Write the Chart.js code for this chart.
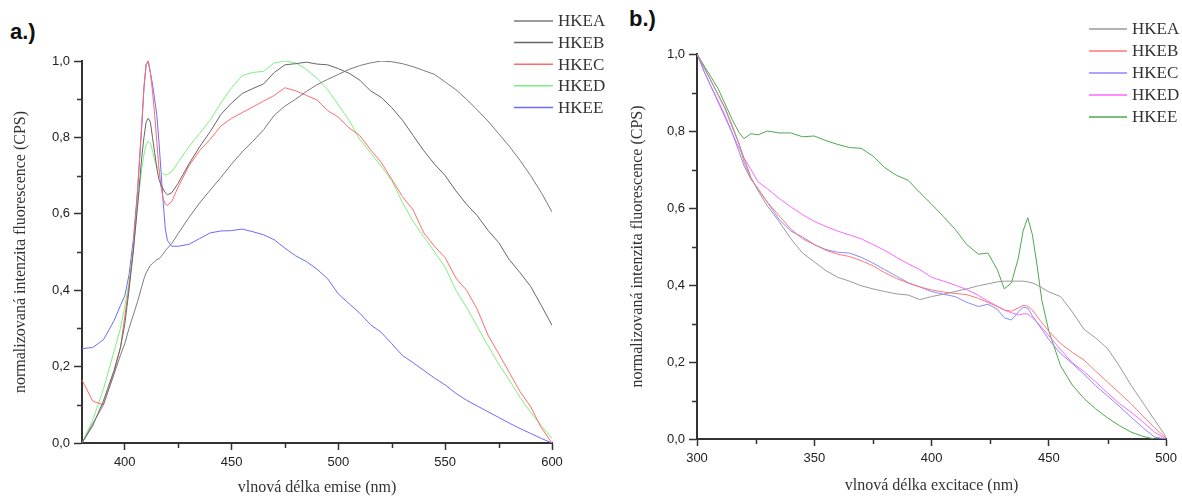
<!DOCTYPE html>
<html>
<head>
<meta charset="utf-8">
<script src="https://cdn.jsdelivr.net/npm/chart.js@4"></script>
<style>
  body { margin: 0; background: #fff; width: 1182px; height: 497px; position: relative; overflow: hidden; }
  canvas { position: absolute; top: 0; }
  #chartA { left: 0; }
  #chartB { left: 600px; }
  .tag { position: absolute; font: bold 22px "Liberation Sans", Arial, sans-serif; color: #111; }
</style>
</head>
<body>
<div class="tag" style="left:10px;top:19px">a.)</div>
<div class="tag" style="left:629px;top:6px">b.)</div>
<canvas id="chartA" width="640" height="497"></canvas>
<canvas id="chartB" width="582" height="497"></canvas>
<script>
// --- a.) emisní spektra ---
const emisX = [380, 385, 390, 395, 398, 400, 402, 404, 406, 408, 409, 410, 411, 412, 413, 414, 415, 416, 417, 418, 419, 420, 422, 425,
  430, 435, 440, 445, 450, 455, 460, 465, 470, 475, 480, 485, 490, 495, 500, 505, 510, 515, 520, 525, 530, 535, 540, 545, 550,
  555, 560, 565, 570, 575, 580, 585, 590, 595, 600];
const emisHKEA = [0, 0.05, 0.10, 0.18, 0.23, 0.26, 0.30, 0.335, 0.37, 0.41, 0.43, 0.445, 0.455, 0.465, 0.47, 0.475, 0.48, 0.482, 0.488, 0.495, 0.503, 0.51, 0.522, 0.548,
  0.59, 0.628, 0.662, 0.695, 0.73, 0.762, 0.79, 0.82, 0.858, 0.882, 0.9, 0.92, 0.938, 0.952, 0.965, 0.978, 0.988, 0.995, 1.0, 0.998, 0.993, 0.985, 0.975, 0.965, 0.945,
  0.925, 0.9, 0.872, 0.843, 0.81, 0.777, 0.74, 0.7, 0.655, 0.605];
const emisHKEB = [0, 0.045, 0.11, 0.19, 0.25, 0.31, 0.40, 0.50, 0.62, 0.75, 0.80, 0.84, 0.85, 0.84, 0.80, 0.76, 0.72, 0.69, 0.675, 0.665, 0.655, 0.65, 0.655, 0.68,
  0.73, 0.775, 0.815, 0.86, 0.89, 0.915, 0.928, 0.94, 0.97, 0.99, 0.993, 0.997, 0.992, 0.99, 0.98, 0.968, 0.95, 0.922, 0.905, 0.878, 0.845, 0.805, 0.765, 0.73, 0.70,
  0.66, 0.625, 0.595, 0.557, 0.525, 0.48, 0.446, 0.41, 0.36, 0.308];
const emisHKEC = [0.165, 0.11, 0.10, 0.185, 0.25, 0.33, 0.41, 0.51, 0.66, 0.84, 0.93, 0.99, 1.0, 0.97, 0.92, 0.86, 0.79, 0.72, 0.67, 0.64, 0.625, 0.622, 0.632, 0.67,
  0.725, 0.765, 0.795, 0.83, 0.85, 0.865, 0.88, 0.895, 0.91, 0.93, 0.922, 0.91, 0.898, 0.87, 0.853, 0.825, 0.805, 0.768, 0.735, 0.69, 0.645, 0.61, 0.55, 0.515, 0.485,
  0.432, 0.40, 0.35, 0.283, 0.234, 0.185, 0.135, 0.095, 0.04, 0.0];
const emisHKED = [0, 0.06, 0.14, 0.24, 0.30, 0.356, 0.42, 0.51, 0.62, 0.72, 0.755, 0.78, 0.79, 0.785, 0.765, 0.74, 0.725, 0.715, 0.71, 0.705, 0.702, 0.703, 0.71, 0.735,
  0.775, 0.81, 0.845, 0.89, 0.93, 0.962, 0.97, 0.973, 0.995, 1.0, 0.995, 0.978, 0.955, 0.925, 0.885, 0.845, 0.795, 0.76, 0.725, 0.687, 0.63, 0.58, 0.54, 0.50, 0.46,
  0.40, 0.355, 0.305, 0.255, 0.207, 0.165, 0.12, 0.08, 0.045, 0.012];
const emisHKEE = [0.247, 0.25, 0.27, 0.32, 0.36, 0.385, 0.44, 0.53, 0.66, 0.83, 0.93, 0.99, 1.0, 0.97, 0.94, 0.90, 0.86, 0.79, 0.71, 0.63, 0.56, 0.53, 0.515, 0.515,
  0.52, 0.535, 0.55, 0.555, 0.556, 0.56, 0.553, 0.545, 0.532, 0.51, 0.49, 0.475, 0.455, 0.43, 0.39, 0.365, 0.34, 0.31, 0.29, 0.26, 0.229, 0.21, 0.19, 0.17, 0.152,
  0.13, 0.112, 0.097, 0.082, 0.067, 0.052, 0.038, 0.025, 0.012, 0.0];

// --- b.) excitační spektra ---
const excX = [300, 303, 306, 309, 312, 315, 318, 320, 323, 326, 330, 335, 340, 345, 350, 355, 360, 365, 370, 375, 380, 385, 390, 395, 400,
  405, 410, 415, 420, 424, 428, 431, 434, 437, 439, 441, 443, 445, 447, 450, 455, 460, 465, 470, 475, 480, 485, 490, 495, 500];
const excHKEA = [1.0, 0.965, 0.93, 0.895, 0.86, 0.815, 0.765, 0.73, 0.68, 0.645, 0.605, 0.565, 0.52, 0.483, 0.46, 0.437, 0.42, 0.41, 0.398, 0.39, 0.383, 0.377, 0.374, 0.362, 0.37,
  0.376, 0.383, 0.39, 0.398, 0.403, 0.408, 0.41, 0.41, 0.41, 0.41, 0.408, 0.405, 0.40, 0.393, 0.382, 0.37, 0.33, 0.285, 0.262, 0.235, 0.19, 0.14, 0.095, 0.05, 0.005];
const excHKEB = [1.0, 0.965, 0.93, 0.893, 0.857, 0.81, 0.766, 0.72, 0.675, 0.65, 0.615, 0.58, 0.545, 0.52, 0.505, 0.49, 0.48, 0.474, 0.463, 0.45, 0.432, 0.417, 0.405, 0.395, 0.387,
  0.382, 0.378, 0.375, 0.365, 0.355, 0.344, 0.335, 0.332, 0.34, 0.347, 0.345, 0.335, 0.318, 0.302, 0.28, 0.248, 0.225, 0.205, 0.176, 0.148, 0.12, 0.092, 0.06, 0.03, 0.002];
const excHKEC = [1.0, 0.955, 0.915, 0.875, 0.835, 0.795, 0.745, 0.71, 0.675, 0.65, 0.615, 0.57, 0.54, 0.525, 0.505, 0.492, 0.485, 0.483, 0.472, 0.457, 0.44, 0.423, 0.406, 0.395, 0.383,
  0.376, 0.37, 0.355, 0.344, 0.35, 0.337, 0.315, 0.309, 0.33, 0.342, 0.34, 0.32, 0.302, 0.285, 0.258, 0.222, 0.196, 0.168, 0.138, 0.112, 0.085, 0.057, 0.03, 0.005, 0.0];
const excHKED = [1.0, 0.955, 0.915, 0.878, 0.84, 0.795, 0.755, 0.73, 0.70, 0.668, 0.65, 0.625, 0.603, 0.583, 0.565, 0.552, 0.54, 0.53, 0.52, 0.505, 0.49, 0.472, 0.455, 0.44, 0.42,
  0.41, 0.40, 0.388, 0.373, 0.358, 0.345, 0.335, 0.328, 0.322, 0.325, 0.325, 0.315, 0.303, 0.29, 0.268, 0.232, 0.198, 0.175, 0.148, 0.12, 0.092, 0.07, 0.045, 0.018, 0.0];
const excHKEE = [1.0, 0.97, 0.94, 0.91, 0.87, 0.83, 0.795, 0.78, 0.793, 0.79, 0.80, 0.795, 0.795, 0.785, 0.787, 0.775, 0.765, 0.757, 0.755, 0.735, 0.705, 0.685, 0.672, 0.64, 0.61,
  0.578, 0.545, 0.505, 0.48, 0.483, 0.44, 0.39, 0.405, 0.47, 0.54, 0.575, 0.53, 0.45, 0.36, 0.28, 0.19, 0.14, 0.105, 0.078, 0.055, 0.035, 0.018, 0.007, 0.0, 0.0];

// popisky os
const emisTicks = [400, 450, 500, 550, 600];
const emisMinor = [425, 475, 525, 575];
const excTicks = [300, 350, 400, 450, 500];
const excMinor = [325, 375, 425, 475];
const yTicks = [0, 0.2, 0.4, 0.6, 0.8, 1.0];
const yMinor = [0.1, 0.3, 0.5, 0.7, 0.9];

const AXIS = '#333';
const SERIF = '"Liberation Serif", "Times New Roman", serif';
const SANS = '"Liberation Sans", Arial, sans-serif';

function series(xs, ys, label, color) {
  return {
    label,
    data: xs.map((x, i) => ({ x, y: ys[i] })),
    borderColor: color,
    borderWidth: 1,
    pointRadius: 0,
    tension: 0,
    fill: false
  };
}

// vedlejší značky na osách + legenda vpravo nahoře
const extras = {
  id: 'extras',
  afterDraw(chart, args, opts) {
    const ctx = chart.ctx;
    const { x, y } = chart.scales;
    ctx.save();
    ctx.strokeStyle = AXIS;
    ctx.lineWidth = 1.5;
    ctx.beginPath();
    opts.xMinor.forEach(v => {
      const px = Math.round(x.getPixelForValue(v)) + 0.5;
      ctx.moveTo(px, x.top);
      ctx.lineTo(px, x.top + 5);
    });
    yMinor.forEach(v => {
      const py = Math.round(y.getPixelForValue(v)) + 0.5;
      ctx.moveTo(y.right, py);
      ctx.lineTo(y.right - 5, py);
    });
    ctx.stroke();

    const lg = opts.legend;
    ctx.font = '17px ' + SERIF;
    ctx.textBaseline = 'middle';
    chart.data.datasets.forEach((ds, i) => {
      const ly = lg.y + i * lg.row;
      ctx.strokeStyle = ds.borderColor;
      ctx.lineWidth = 1.5;
      ctx.beginPath();
      ctx.moveTo(lg.x, ly);
      ctx.lineTo(lg.x + lg.len, ly);
      ctx.stroke();
      ctx.fillStyle = '#333';
      ctx.fillText(ds.label, lg.x + lg.len + 5, ly + 1);
    });
    ctx.restore();
  }
};

function buildChart(id, c) {
  return new Chart(document.getElementById(id), {
    type: 'line',
    data: { datasets: c.datasets },
    options: {
      responsive: false,
      animation: false,
      devicePixelRatio: 1,
      layout: { padding: c.padding },
      plugins: {
        legend: { display: false },
        tooltip: { enabled: false },
        extras: { xMinor: c.xMinor, legend: c.legend }
      },
      scales: {
        x: {
          type: 'linear',
          min: c.xMin,
          max: c.xMax,
          afterBuildTicks: s => { s.ticks = c.xTicks.map(v => ({ value: v })); },
          afterFit: s => { s.height = c.xHeight; },
          grid: { drawOnChartArea: false, drawTicks: true, tickLength: 7, tickWidth: 1.5, tickColor: AXIS },
          border: { display: true, color: AXIS, width: 2 },
          ticks: { color: '#222', padding: 5, maxRotation: 0, font: { family: SANS, size: 13 } },
          title: { display: true, text: c.xTitle, color: '#333', font: { family: SERIF, size: 16 }, padding: { top: 0, bottom: c.xTitlePad } }
        },
        y: {
          min: 0,
          max: 1,
          afterBuildTicks: s => { s.ticks = yTicks.map(v => ({ value: v })); },
          afterFit: s => { s.width = c.yWidth; },
          grid: { drawOnChartArea: false, drawTicks: true, tickLength: 8, tickWidth: 1.5, tickColor: AXIS },
          border: { display: true, color: AXIS, width: 2 },
          ticks: { color: '#222', padding: 4, font: { family: SANS, size: 13 }, callback: v => v.toFixed(1).replace('.', ',') },
          title: { display: true, text: 'normalizovaná intenzita fluorescence (CPS)', color: '#333', font: { family: SERIF, size: 16 }, padding: { top: c.yTitlePad, bottom: 0 } }
        }
      }
    },
    plugins: [extras]
  });
}

buildChart('chartA', {
  datasets: [
    series(emisX, emisHKEA, 'HKEA', '#7a7a7a'),
    series(emisX, emisHKEB, 'HKEB', '#666666'),
    series(emisX, emisHKEC, 'HKEC', '#ff6b6b'),
    series(emisX, emisHKED, 'HKED', '#7ef07e'),
    series(emisX, emisHKEE, 'HKEE', '#6b6bff')
  ],
  padding: { left: 0, top: 61, right: 88, bottom: 0 },
  xMin: 380, xMax: 600, xTicks: emisTicks, xMinor: emisMinor,
  xHeight: 54, yWidth: 82, xTitlePad: 0, yTitlePad: 11,
  xTitle: 'vlnová délka emise (nm)',
  legend: { x: 514, y: 21, row: 21.6, len: 39 }
});

buildChart('chartB', {
  datasets: [
    series(excX, excHKEA, 'HKEA', '#9a9a9a'),
    series(excX, excHKEB, 'HKEB', '#ff7777'),
    series(excX, excHKEC, 'HKEC', '#8a8aff'),
    series(excX, excHKED, 'HKED', '#ff66ff'),
    series(excX, excHKEE, 'HKEE', '#4fa84f')
  ],
  padding: { left: 0, top: 54, right: 12, bottom: 0 },
  xMin: 300, xMax: 500, xTicks: excTicks, xMinor: excMinor,
  xHeight: 58, yWidth: 97, xTitlePad: 2, yTitlePad: 28,
  xTitle: 'vlnová délka excitace (nm)',
  legend: { x: 489, y: 29, row: 22, len: 38 }
});
</script>
</body>
</html>
